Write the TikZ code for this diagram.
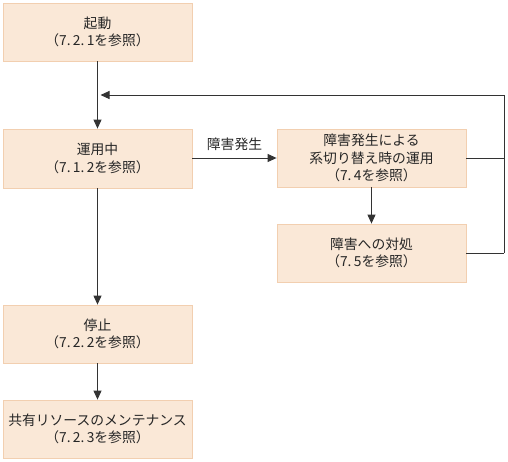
\documentclass[tikz,border=0pt]{standalone}
\usepackage{fontspec}
\setmainfont{Noto Sans CJK JP}
\usetikzlibrary{arrows.meta}
\definecolor{boxfill}{HTML}{FAE8D7}
\definecolor{boxline}{HTML}{F2CFB0}
\definecolor{linec}{HTML}{333333}
\tikzset{
  stepbox/.style={draw=boxline, line width=0.8pt, fill=boxfill, minimum width=189pt, minimum height=58pt, inner sep=0pt, align=center, font=\fontsize{13.8pt}{17.5pt}\selectfont, text=black!85},
  conn/.style={draw=linec, line width=1pt},
  arr/.style={conn, -{Triangle[length=9pt,width=8pt]}},
  lbl/.style={font=\fontsize{13.8pt}{17.5pt}\selectfont, text=black!85, inner sep=0pt}
}
\begin{document}
\begin{tikzpicture}[x=1pt,y=-1pt]
\useasboundingbox (0,0) rectangle (508,461);
\node[stepbox] (start) at (97.5,32) {起動\\（7.\,2.\,1を参照）};
\node[stepbox, minimum height=59pt] (run) at (97.5,158.5) {運用中\\（7.\,1.\,2を参照）};
\node[stepbox] (fail) at (371.5,158) {障害発生による\\系切り替え時の運用\\（7.\,4を参照）};
\node[stepbox] (fix) at (371.5,253) {障害への対処\\（7.\,5を参照）};
\node[stepbox] (stop) at (97.5,334) {停止\\（7.\,2.\,2を参照）};
\node[stepbox] (maint) at (97.5,429) {共有リソースのメンテナンス\\（7.\,2.\,3を参照）};
\coordinate (ret) at (100.5,95);
\coordinate (rtop) at (504,95);
\draw[arr] (start) -- (run);
\draw[arr] (run.east |- fail) -- node[lbl, above=7pt] {障害発生} (fail.west);
\draw[arr] (fail) -- (fix);
\draw[arr] (run) -- (stop);
\draw[arr] (stop) -- (maint);
\draw[conn] (fail.east) -- (rtop |- fail.east);
\draw[conn] (fix.east) -- (rtop |- fix.east);
\draw[arr] (rtop |- fix.east) -- (rtop) -- (ret);
\end{tikzpicture}
\end{document}
